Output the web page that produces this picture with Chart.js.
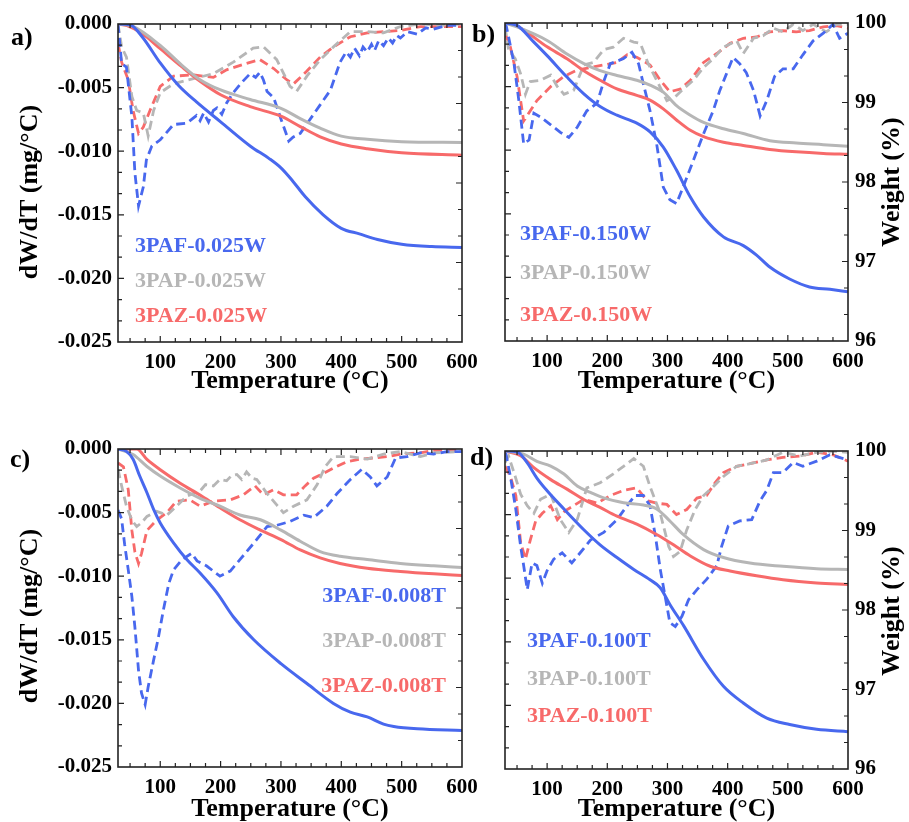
<!DOCTYPE html>
<html lang="en">
<head>
  <meta charset="UTF-8">
  <title>TGA / DTG curves</title>
  <script src="https://cdn.jsdelivr.net/npm/chart.js"></script>
  <style>
    body { margin: 0; background: #fff; }
    #wrap { position: relative; width: 909px; height: 822px; overflow: hidden;
            font-family: "Liberation Serif", "Times New Roman", serif; font-weight: bold; }
    canvas { position: absolute; }
    .lab { position: absolute; font-size: 22px; line-height: 1; white-space: nowrap; }
    .pl { position: absolute; font-size: 26px; line-height: 1; color: #000; }
  </style>
</head>
<body>
<div id="wrap">
  <canvas id="ca" width="500" height="410" style="left:0;top:0"></canvas>
  <canvas id="cb" width="454" height="410" style="left:455px;top:0"></canvas>
  <canvas id="cc" width="500" height="412" style="left:0;top:410px"></canvas>
  <canvas id="cd" width="454" height="412" style="left:455px;top:410px"></canvas>

  <div class="pl" style="left:11px;top:24px">a)</div>
  <div class="pl" style="left:472px;top:21px">b)</div>
  <div class="pl" style="left:10px;top:446px">c)</div>
  <div class="pl" style="left:470px;top:444px">d)</div>

  <div class="lab" style="left:135px;top:234px;color:#4868ee">3PAF-0.025W</div>
  <div class="lab" style="left:135px;top:269px;color:#b6b6b6">3PAP-0.025W</div>
  <div class="lab" style="left:135px;top:304px;color:#f76a6a">3PAZ-0.025W</div>

  <div class="lab" style="left:520px;top:222px;color:#4868ee">3PAF-0.150W</div>
  <div class="lab" style="left:520px;top:261px;color:#b6b6b6">3PAP-0.150W</div>
  <div class="lab" style="left:520px;top:303px;color:#f76a6a">3PAZ-0.150W</div>

  <div class="lab" style="right:463px;top:584px;color:#4868ee">3PAF-0.008T</div>
  <div class="lab" style="right:463px;top:629px;color:#b6b6b6">3PAP-0.008T</div>
  <div class="lab" style="right:463px;top:674px;color:#f76a6a">3PAZ-0.008T</div>

  <div class="lab" style="left:527px;top:629px;color:#4868ee">3PAF-0.100T</div>
  <div class="lab" style="left:527px;top:667px;color:#b6b6b6">3PAP-0.100T</div>
  <div class="lab" style="left:527px;top:704px;color:#f76a6a">3PAZ-0.100T</div>
</div>

<script>
// ---------- panel a (0.025W) ----------
const tA_PAF_W = [30,50,70,100,130,160,200,250,280,300,320,340,370,400,430,460,500,550,600];
const wA_PAF   = [100,99.99,99.84,99.51,99.23,99.02,98.77,98.46,98.31,98.19,98.02,97.83,97.60,97.43,97.36,97.29,97.23,97.20,97.19];
const tA_PAP_W = [30,55,100,136,166,200,249,300,332,365,400,443,500,600];
const wA_PAP   = [100,99.97,99.73,99.48,99.30,99.17,99.05,98.94,98.81,98.69,98.59,98.55,98.52,98.51];
const tA_PAZ_W = [30,45,70,100,136,166,200,249,300,332,365,400,443,500,600];
const wA_PAZ   = [100,99.98,99.88,99.69,99.46,99.28,99.11,98.96,98.84,98.71,98.58,98.49,98.43,98.38,98.35];

const tA_PAF_D = [30,36,44,53,58,64,72,77,86,100,122,144,160,166,172,180,188,194,202,210,221,235,249,258,265,271,277,288,301,313,320,332,354,382,398,408,415,422,430,436,443,450,455,462,470,478,485,492,498,510,526,540,553,575,600];
const dA_PAF   = [0,-0.0031,-0.0034,-0.0073,-0.0117,-0.0143,-0.0128,-0.0107,-0.0096,-0.0091,-0.0079,-0.0078,-0.0072,-0.0076,-0.0070,-0.0077,-0.0068,-0.0066,-0.0071,-0.0062,-0.0054,-0.0046,-0.0039,-0.0042,-0.0038,-0.0044,-0.0053,-0.0058,-0.0076,-0.0092,-0.0089,-0.0086,-0.0071,-0.0052,-0.0030,-0.0022,-0.0026,-0.0019,-0.0025,-0.0018,-0.0022,-0.0016,-0.0021,-0.0013,-0.0017,-0.0011,-0.0015,-0.0009,-0.0011,-0.0006,-0.0008,-0.0003,-0.0004,-0.0001,-0.0001];
const tA_PAP_D = [30,36,44,53,61,72,80,89,100,122,155,188,221,254,271,293,315,326,343,365,387,415,443,470,498,531,565,600];
const dA_PAP   = [0,-0.0018,-0.0026,-0.0057,-0.0068,-0.0070,-0.0088,-0.0068,-0.0054,-0.0047,-0.0043,-0.0039,-0.0030,-0.0019,-0.0018,-0.0028,-0.0049,-0.0053,-0.0041,-0.0028,-0.0018,-0.0006,-0.0006,-0.0007,-0.0002,0,-0.0001,0];
const tA_PAZ_D = [30,36,47,55,64,72,83,100,122,155,188,210,243,265,288,310,321,343,365,387,415,443,498,531,565,600];
const dA_PAZ   = [-0.0015,-0.0030,-0.0044,-0.0068,-0.0086,-0.0081,-0.0068,-0.0049,-0.0041,-0.0040,-0.0042,-0.0036,-0.0031,-0.0028,-0.0035,-0.0044,-0.0047,-0.0037,-0.0026,-0.0018,-0.0010,-0.0007,-0.0005,-0.0002,-0.0002,-0.0002];

// ---------- panel b (0.150W) ----------
const tB_PAF_W = [30,50,78,100,133,161,188,216,249,271,293,315,338,360,393,426,448,470,503,536,570,600];
const wB_PAF   = [100,99.97,99.76,99.59,99.32,99.11,98.95,98.84,98.74,98.63,98.44,98.15,97.81,97.56,97.31,97.20,97.08,96.93,96.78,96.68,96.65,96.62];
const tB_W     = [30,50,100,133,161,188,216,249,271,293,315,338,360,393,426,470,514,559,600];
const wB_PAP   = [100,99.95,99.78,99.61,99.49,99.40,99.34,99.28,99.22,99.13,98.96,98.84,98.75,98.67,98.61,98.52,98.49,98.47,98.45];
const wB_PAZ   = [100,99.96,99.70,99.55,99.40,99.28,99.17,99.09,99.03,98.92,98.78,98.65,98.57,98.50,98.46,98.41,98.38,98.36,98.35];

const tB_PAF_D = [31,36,45,53,61,70,78,89,106,122,136,150,166,183,194,205,216,227,241,252,260,271,282,293,304,315,326,343,360,376,387,398,409,420,431,443,454,465,478,492,509,525,542,559,575,586,600];
const dB_PAF   = [0,-0.0011,-0.0032,-0.0061,-0.0095,-0.0092,-0.0071,-0.0074,-0.0080,-0.0086,-0.0090,-0.0082,-0.0069,-0.0063,-0.0046,-0.0032,-0.0030,-0.0028,-0.0023,-0.0032,-0.0048,-0.0069,-0.0095,-0.0129,-0.0139,-0.0142,-0.0129,-0.0108,-0.0087,-0.0069,-0.0053,-0.0040,-0.0027,-0.0032,-0.0039,-0.0053,-0.0073,-0.0061,-0.0042,-0.0036,-0.0036,-0.0025,-0.0014,-0.0008,-0.0001,-0.0012,-0.0008];
const tB_PAP_D = [30,36,47,56,64,72,89,106,117,128,144,161,177,194,210,227,244,255,268,282,299,313,326,343,360,376,393,415,426,443,459,476,492,509,525,542,564,581,600];
const dB_PAP   = [-0.0003,-0.0021,-0.0028,-0.0040,-0.0056,-0.0046,-0.0045,-0.0041,-0.0050,-0.0056,-0.0053,-0.0033,-0.0031,-0.0021,-0.0019,-0.0012,-0.0015,-0.0016,-0.0032,-0.0045,-0.0061,-0.0058,-0.0052,-0.0045,-0.0035,-0.0028,-0.0019,-0.0014,-0.0024,-0.0012,-0.0010,-0.0004,-0.0007,-0.0001,-0.0006,-0.0001,-0.0007,-0.0001,-0.0001];
const tB_PAZ_D = [30,39,50,61,83,106,128,150,172,194,216,233,249,271,288,304,321,338,360,382,404,426,448,470,492,514,536,559,581,600];
const dB_PAZ   = [-0.0008,-0.0019,-0.0042,-0.0077,-0.0061,-0.0050,-0.0042,-0.0037,-0.0035,-0.0033,-0.0031,-0.0025,-0.0027,-0.0033,-0.0045,-0.0054,-0.0052,-0.0045,-0.0031,-0.0024,-0.0016,-0.0012,-0.0011,-0.0007,-0.0006,-0.0007,-0.0006,-0.0003,-0.0002,-0.0004];

// ---------- panel c (0.008T) ----------
const tC_PAF_W = [30,44,55,66,78,89,100,122,144,166,194,221,255,300,343,387,415,443,470,487,526,600];
const wC_PAF   = [100,99.97,99.87,99.66,99.45,99.24,99.07,98.82,98.61,98.44,98.19,97.89,97.60,97.30,97.05,96.80,96.69,96.63,96.54,96.51,96.48,96.46];
const tC_PAP_W = [30,55,78,100,133,166,199,232,266,300,332,365,398,443,498,553,600];
const wC_PAP   = [100,99.93,99.78,99.66,99.51,99.38,99.28,99.17,99.11,98.98,98.84,98.71,98.65,98.61,98.56,98.53,98.51];
const tC_PAZ_W = [30,61,78,100,133,166,199,232,266,300,332,365,398,443,498,553,600];
const wC_PAZ   = [100,100,99.87,99.74,99.57,99.42,99.26,99.11,98.98,98.86,98.73,98.63,98.56,98.50,98.46,98.43,98.41];

const tC_PAF_D = [30,36,41,47,53,58,64,69,75,80,89,97,105,114,122,136,152,161,177,199,216,232,255,277,293,315,338,354,376,393,415,434,448,459,476,490,509,531,553,575,600];
const dC_PAF   = [-0.0048,-0.0055,-0.0075,-0.0095,-0.0116,-0.0140,-0.0174,-0.0192,-0.0201,-0.0187,-0.0166,-0.0148,-0.0127,-0.0106,-0.0095,-0.0087,-0.0082,-0.0088,-0.0092,-0.0100,-0.0096,-0.0087,-0.0074,-0.0061,-0.0060,-0.0057,-0.0052,-0.0054,-0.0045,-0.0035,-0.0024,-0.0016,-0.0022,-0.0029,-0.0022,-0.0007,-0.0006,-0.0003,-0.0004,-0.0002,-0.0002];
const tC_PAP_D = [30,36,44,53,61,69,78,94,111,127,144,166,175,188,199,210,218,227,235,243,252,260,277,293,304,321,343,360,373,387,415,443,470,498,531,553,600];
const dC_PAP   = [-0.0016,-0.0029,-0.0045,-0.0056,-0.0061,-0.0058,-0.0053,-0.0049,-0.0052,-0.0045,-0.0037,-0.0033,-0.0028,-0.0029,-0.0024,-0.0025,-0.0021,-0.0020,-0.0024,-0.0018,-0.0023,-0.0024,-0.0035,-0.0044,-0.0050,-0.0045,-0.0040,-0.0028,-0.0014,-0.0006,-0.0006,-0.0008,-0.0004,-0.0002,-0.0006,-0.0003,-0.0002];
const tC_PAZ_D = [30,39,47,53,58,64,69,78,94,111,127,149,166,188,216,238,257,271,288,304,326,340,354,371,387,409,432,454,476,498,531,553,600];
const dC_PAZ   = [-0.0011,-0.0014,-0.0032,-0.0064,-0.0081,-0.0090,-0.0082,-0.0064,-0.0056,-0.0050,-0.0041,-0.0040,-0.0045,-0.0041,-0.0040,-0.0036,-0.0029,-0.0036,-0.0032,-0.0036,-0.0036,-0.0029,-0.0023,-0.0019,-0.0015,-0.0010,-0.0008,-0.0007,-0.0006,-0.0004,-0.0003,-0.0001,-0.0001];

// ---------- panel d (0.100T) ----------
const tD_PAF_W = [30,50,67,83,100,128,161,188,216,244,271,288,304,327,360,393,426,465,503,548,600];
const wD_PAF   = [100,99.99,99.85,99.66,99.50,99.27,99.01,98.82,98.66,98.51,98.38,98.28,98.07,97.80,97.38,97.04,96.83,96.64,96.56,96.50,96.47];
const tD_PAP_W = [30,61,83,106,128,150,172,194,227,260,282,304,326,360,393,437,492,548,600];
const wD_PAP   = [100,99.96,99.87,99.81,99.71,99.56,99.48,99.41,99.35,99.32,99.27,99.12,98.95,98.76,98.66,98.59,98.55,98.52,98.51];
const tD_PAZ_W = [30,56,78,106,133,161,188,216,249,282,310,338,371,404,448,492,548,600];
const wD_PAZ   = [100,99.94,99.79,99.64,99.52,99.39,99.29,99.18,99.08,98.95,98.82,98.68,98.55,98.49,98.43,98.38,98.34,98.32];

const tD_PAF_D = [31,39,48,56,61,67,75,83,92,100,111,125,141,155,172,194,216,233,246,260,271,280,288,296,304,313,324,335,349,365,382,390,401,420,440,454,465,476,492,509,525,548,570,600];
const dD_PAF   = [-0.0001,-0.0020,-0.0046,-0.0075,-0.0090,-0.0109,-0.0088,-0.0090,-0.0104,-0.0094,-0.0085,-0.0080,-0.0088,-0.0080,-0.0070,-0.0064,-0.0054,-0.0043,-0.0035,-0.0035,-0.0043,-0.0067,-0.0093,-0.0114,-0.0135,-0.0138,-0.0130,-0.0117,-0.0109,-0.0101,-0.0090,-0.0075,-0.0059,-0.0055,-0.0054,-0.0039,-0.0031,-0.0017,-0.0017,-0.0009,-0.0012,-0.0008,-0.0003,-0.0007];
const tD_PAP_D = [30,36,45,56,67,78,89,106,122,136,150,166,188,210,227,244,260,271,288,302,310,321,332,346,360,376,393,415,437,465,492,520,548,575,600];
const dD_PAP   = [-0.0009,-0.0004,-0.0017,-0.0034,-0.0043,-0.0049,-0.0038,-0.0034,-0.0054,-0.0064,-0.0054,-0.0029,-0.0025,-0.0018,-0.0012,-0.0006,-0.0012,-0.0028,-0.0049,-0.0075,-0.0083,-0.0079,-0.0062,-0.0046,-0.0035,-0.0028,-0.0020,-0.0012,-0.0010,-0.0007,-0.0001,-0.0004,-0.0001,0,-0.0001];
const tD_PAZ_D = [30,39,48,56,64,72,81,92,106,117,130,144,161,183,205,227,249,266,282,299,315,332,349,365,379,393,415,437,465,492,520,548,575,600];
const dD_PAZ   = [-0.0012,-0.0020,-0.0035,-0.0072,-0.0085,-0.0070,-0.0055,-0.0049,-0.0043,-0.0054,-0.0047,-0.0043,-0.0038,-0.0041,-0.0035,-0.0031,-0.0029,-0.0039,-0.0041,-0.0042,-0.0050,-0.0046,-0.0037,-0.0035,-0.0025,-0.0017,-0.0012,-0.0010,-0.0007,-0.0005,-0.0004,-0.0001,-0.0003,-0.0008];

const xLabels = [100, 200, 300, 400, 500, 600];
const BLUE = '#4868ee', GRAY = '#b6b6b6', RED = '#f76a6a';
const FONT = 'Liberation Serif';

function pts(ts, vs) { return ts.map((t, i) => ({ x: t, y: vs[i] })); }

// solid = weight (right axis), dashed = dW/dT (left axis)
function weightLine(ts, vs, color) {
  return { data: pts(ts, vs), yAxisID: 'y2', borderColor: color, borderWidth: 3, pointRadius: 0,
           cubicInterpolationMode: 'monotone', fill: false };
}
function dtgLine(ts, vs, color) {
  return { data: pts(ts, vs), yAxisID: 'y', borderColor: color, borderWidth: 2.8, borderDash: [9, 5],
           pointRadius: 0, tension: 0, fill: false };
}

// frame, inward ticks on all four sides, and rotated y titles
const framePlugin = {
  id: 'frame',
  afterDatasetsDraw(chart, args, o) {
    const { ctx, chartArea: a, scales } = chart;
    ctx.save();
    ctx.strokeStyle = '#222';
    ctx.lineWidth = 1.2;
    ctx.beginPath();
    for (let t = 50; t < 600; t += 25) {
      const px = scales.x.getPixelForValue(t);
      const len = t % 100 === 0 ? 6 : 4;
      ctx.moveTo(px, a.bottom); ctx.lineTo(px, a.bottom - len);
      ctx.moveTo(px, a.top); ctx.lineTo(px, a.top + len);
    }
    for (let k = 1; k < 15; k++) {
      const py = scales.y.getPixelForValue(-0.025 + k * 0.025 / 15);
      const len = k % 3 === 0 ? 6 : 4;
      ctx.moveTo(a.left, py); ctx.lineTo(a.left + len, py);
    }
    for (let k = 1; k < 12; k++) {
      const py = scales.y2.getPixelForValue(96 + k / 3);
      const len = k % 3 === 0 ? 6 : 4;
      ctx.moveTo(a.right, py); ctx.lineTo(a.right - len, py);
    }
    ctx.stroke();
    ctx.lineWidth = 1.6;
    ctx.strokeRect(a.left, a.top, a.right - a.left, a.bottom - a.top);

    ctx.fillStyle = '#000';
    ctx.font = 'bold 26px "' + FONT + '"';
    ctx.textAlign = 'center';
    ctx.textBaseline = 'middle';
    const mid = (a.top + a.bottom) / 2;
    if (o.leftTitle) {
      ctx.save();
      ctx.translate(o.leftX, mid + o.leftDy);
      ctx.rotate(-Math.PI / 2);
      ctx.fillText('dW/dT (mg/°C)', 0, 0);
      ctx.restore();
    }
    if (o.rightTitle) {
      ctx.save();
      ctx.translate(o.rightX, mid + o.rightDy);
      ctx.rotate(-Math.PI / 2);
      ctx.fillText('Weight (%)', 0, 0);
      ctx.restore();
    }
    ctx.restore();
  }
};

function makePanel(id, p) {
  const tickFont = { family: FONT, size: 21, weight: 'bold' };
  return new Chart(document.getElementById(id), {
    type: 'line',
    data: { datasets: p.datasets },
    options: {
      responsive: false,
      animation: false,
      devicePixelRatio: 1,
      layout: { padding: { top: p.top, left: 0, right: 0, bottom: 0 } },
      plugins: {
        legend: { display: false },
        tooltip: { enabled: false },
        frame: p.frame
      },
      scales: {
        x: {
          type: 'linear', min: 30, max: 600,
          grid: { display: false, drawTicks: false }, border: { display: false },
          ticks: { stepSize: 100, autoSkip: false, maxRotation: 0, padding: 8, color: '#000', font: tickFont,
                   callback: v => xLabels.includes(v) ? String(v) : null },
          title: { display: true, text: 'Temperature (°C)', color: '#000',
                   font: { family: FONT, size: 26, weight: 'bold', lineHeight: 1 },
                   padding: { top: 0, bottom: p.titlePad } },
          afterFit: s => { s.height = p.xh; }
        },
        y: {
          position: 'left', min: -0.025, max: 0,
          grid: { display: false, drawTicks: false }, border: { display: false },
          ticks: { display: p.leftLabels, stepSize: 0.005, padding: 6, color: '#000', font: tickFont,
                   callback: v => v.toFixed(3) },
          afterFit: s => { s.width = p.lw; }
        },
        y2: {
          position: 'right', min: 96, max: 100,
          grid: { display: false, drawTicks: false }, border: { display: false },
          ticks: { display: p.rightLabels, stepSize: 1, padding: 7, color: '#000', font: tickFont },
          afterFit: s => { s.width = p.rw; }
        }
      }
    },
    plugins: [framePlugin]
  });
}

makePanel('ca', {
  top: 24, xh: 68, lw: 118, rw: 38, titlePad: 16, leftLabels: true, rightLabels: false,
  frame: { leftTitle: true, leftX: 30, leftDy: 9, rightTitle: false },
  datasets: [
    weightLine(tA_PAF_W, wA_PAF, BLUE), weightLine(tA_PAP_W, wA_PAP, GRAY), weightLine(tA_PAZ_W, wA_PAZ, RED),
    dtgLine(tA_PAF_D, dA_PAF, BLUE), dtgLine(tA_PAP_D, dA_PAP, GRAY), dtgLine(tA_PAZ_D, dA_PAZ, RED)
  ]
});
makePanel('cb', {
  top: 23, xh: 69, lw: 50, rw: 61, titlePad: 16, leftLabels: false, rightLabels: true,
  frame: { leftTitle: false, rightTitle: true, rightX: 437, rightDy: 0 },
  datasets: [
    weightLine(tB_PAF_W, wB_PAF, BLUE), weightLine(tB_W, wB_PAP, GRAY), weightLine(tB_W, wB_PAZ, RED),
    dtgLine(tB_PAF_D, dB_PAF, BLUE), dtgLine(tB_PAP_D, dB_PAP, GRAY), dtgLine(tB_PAZ_D, dB_PAZ, RED)
  ]
});
makePanel('cc', {
  top: 39, xh: 55, lw: 118, rw: 38, titlePad: 0, leftLabels: true, rightLabels: false,
  frame: { leftTitle: true, leftX: 30, leftDy: 8, rightTitle: false },
  datasets: [
    weightLine(tC_PAF_W, wC_PAF, BLUE), weightLine(tC_PAP_W, wC_PAP, GRAY), weightLine(tC_PAZ_W, wC_PAZ, RED),
    dtgLine(tC_PAF_D, dC_PAF, BLUE), dtgLine(tC_PAP_D, dC_PAP, GRAY), dtgLine(tC_PAZ_D, dC_PAZ, RED)
  ]
});
makePanel('cd', {
  top: 41, xh: 53, lw: 50, rw: 61, titlePad: 0, leftLabels: false, rightLabels: true,
  frame: { leftTitle: false, rightTitle: true, rightX: 437, rightDy: 1 },
  datasets: [
    weightLine(tD_PAF_W, wD_PAF, BLUE), weightLine(tD_PAP_W, wD_PAP, GRAY), weightLine(tD_PAZ_W, wD_PAZ, RED),
    dtgLine(tD_PAF_D, dD_PAF, BLUE), dtgLine(tD_PAP_D, dD_PAP, GRAY), dtgLine(tD_PAZ_D, dD_PAZ, RED)
  ]
});
</script>
</body>
</html>
